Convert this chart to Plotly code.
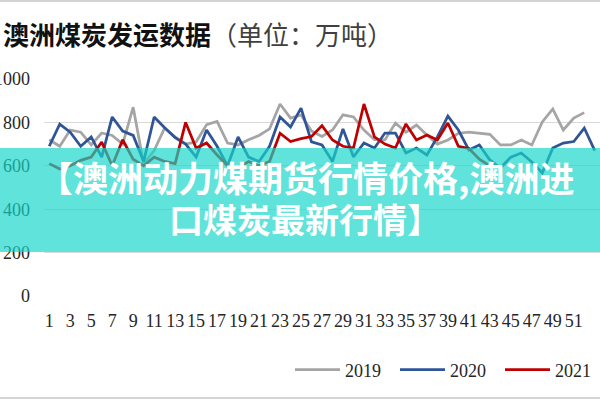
import plotly.graph_objects as go

# Week categories (x axis)
weeks = [1, 2, 3, 4, 5, 6, 7, 8, 9, 10, 11, 12, 13, 14, 15, 16, 17, 18, 19, 20,
         21, 22, 23, 24, 25, 26, 27, 28, 29, 30, 31, 32, 33, 34, 35, 36, 37, 38, 39, 40,
         41, 42, 43, 44, 45, 46, 47, 48, 49, 50, 51, 52, 53]
tick_weeks = [1, 3, 5, 7, 9, 11, 13, 15, 17, 19, 21, 23, 25, 27, 29, 31, 33, 35, 37, 39,
              41, 43, 45, 47, 49, 51]
y_ticks = [0, 200, 400, 600, 800, 1000]

# Weekly Australian coal shipments (10k tonnes)
s2019 = [720, 690, 765, 755, 696, 751, 740, 700, 870, 610,
         670, 774, 733, 700, 710, 790, 805, 705, 696, 720,
         740, 770, 885, 820, 834, 760, 735, 765, 835, 825,
         765, 720, 719, 797, 755, 788, 742, 700, 719, 750,
         755, 751, 745, 696, 696, 719, 696, 802, 862, 765,
         820, 845]
s2020 = [690, 792, 755, 690, 733, 640, 825, 760, 740, 620,
         825, 775, 730, 700, 640, 765, 690, 600, 733, 640,
         620, 690, 825, 779, 866, 710, 696, 620, 770, 641,
         705, 682, 751, 751, 659, 682, 650, 733, 829, 765,
         673, 696, 627, 590, 640, 659, 618, 567, 682, 705,
         712, 774, 670]
s2021 = [610, 585, 600, 625, 640, 710, 600, 720, 630, 600,
         640, 620, 610, 800, 682, 705, 650, 600, 590, 620,
         600, 620, 750, 712, 725, 735, 785, 719, 690, 682,
         885, 733, 700, 682, 793, 719, 742, 719, 797, 690,
         680, 630, 600]

series = [("2019", s2019, "#A5A5A5"),
          ("2020", s2020, "#2F5597"),
          ("2021", s2021, "#C00000")]

fig = go.Figure()
for name, vals, color in series:
    fig.add_trace(go.Scatter(
        x=weeks[:len(vals)], y=vals, mode="lines", name=name,
        line=dict(color=color, width=2.75)))

# pixel helpers for layout placement
L, R, T, B = 44, 0, 79, 104
PW, PH = 600 - L - R, 400 - T - B
def px(xp):
    return (xp - L) / PW
def py(yp):
    return (400 - B - yp) / PH

serif = "Liberation Serif"

fig.update_layout(
    width=600, height=400, autosize=False,
    margin=dict(l=L, r=R, t=T, b=B, pad=0, autoexpand=False),
    paper_bgcolor="white", plot_bgcolor="white",
    title=dict(
        text="<b>澳洲煤炭发运数据</b><span style='color:#404040'>（单位：万吨）</span>",
        xref="container", yref="container", x=3 / 600, xanchor="left",
        y=1 - 36 / 400, yanchor="middle", pad=dict(l=0, r=0, t=0, b=0),
        font=dict(family="Noto Sans CJK SC", size=26, color="#111111")),
    xaxis=dict(range=[0.5, 53.5], tickmode="array", tickvals=tick_weeks,
               ticktext=[str(t) for t in tick_weeks], tickangle=0,
               showgrid=False, zeroline=False, showline=False, ticks="",
               automargin=False, ticklabelstandoff=12,
               tickfont=dict(family=serif, size=18, color="#262626")),
    yaxis=dict(range=[0, 1000], tickmode="array", tickvals=y_ticks,
               showgrid=True, gridcolor="#D9D9D9", gridwidth=1,
               zeroline=False, showline=False, ticks="",
               automargin=False, ticklabelstandoff=13,
               tickfont=dict(family=serif, size=18, color="#262626")),
    legend=dict(orientation="h", xref="container", yref="container",
                x=290 / 600, xanchor="left", y=1 - 370 / 400, yanchor="middle",
                font=dict(family=serif, size=18, color="#262626"),
                bgcolor="rgba(0,0,0,0)", itemwidth=45, entrywidth=45,
                traceorder="normal"),
    shapes=[
        dict(type="rect", xref="paper", yref="paper", layer="above",
             x0=px(-5), x1=px(605), y0=py(148), y1=py(252),
             fillcolor="rgba(20,214,200,0.68)", line=dict(width=0)),
        dict(type="line", xref="paper", yref="paper", layer="above",
             x0=px(-5), x1=px(605), y0=py(1), y1=py(1),
             line=dict(color="#D4D4D4", width=2)),
        dict(type="line", xref="paper", yref="paper", layer="above",
             x0=px(-5), x1=px(605), y0=py(398), y1=py(398),
             line=dict(color="#D4D4D4", width=2)),
    ],
    annotations=[
        dict(text="<b>【澳洲动力煤期货行情价格,澳洲进</b>", xref="paper", yref="paper",
             x=px(306), y=py(176), xanchor="center", yanchor="middle",
             showarrow=False,
             font=dict(family="Noto Sans CJK SC", size=35, color="white")),
        dict(text="<b>口煤炭最新行情】</b>", xref="paper", yref="paper",
             x=px(305), y=py(218), xanchor="center", yanchor="middle",
             showarrow=False,
             font=dict(family="Noto Sans CJK SC", size=34, color="white")),
    ],
)

fig.write_html("out.html", config={"displayModeBar": False},
               post_script="document.body.style.margin='0';document.body.style.overflow='hidden';")
